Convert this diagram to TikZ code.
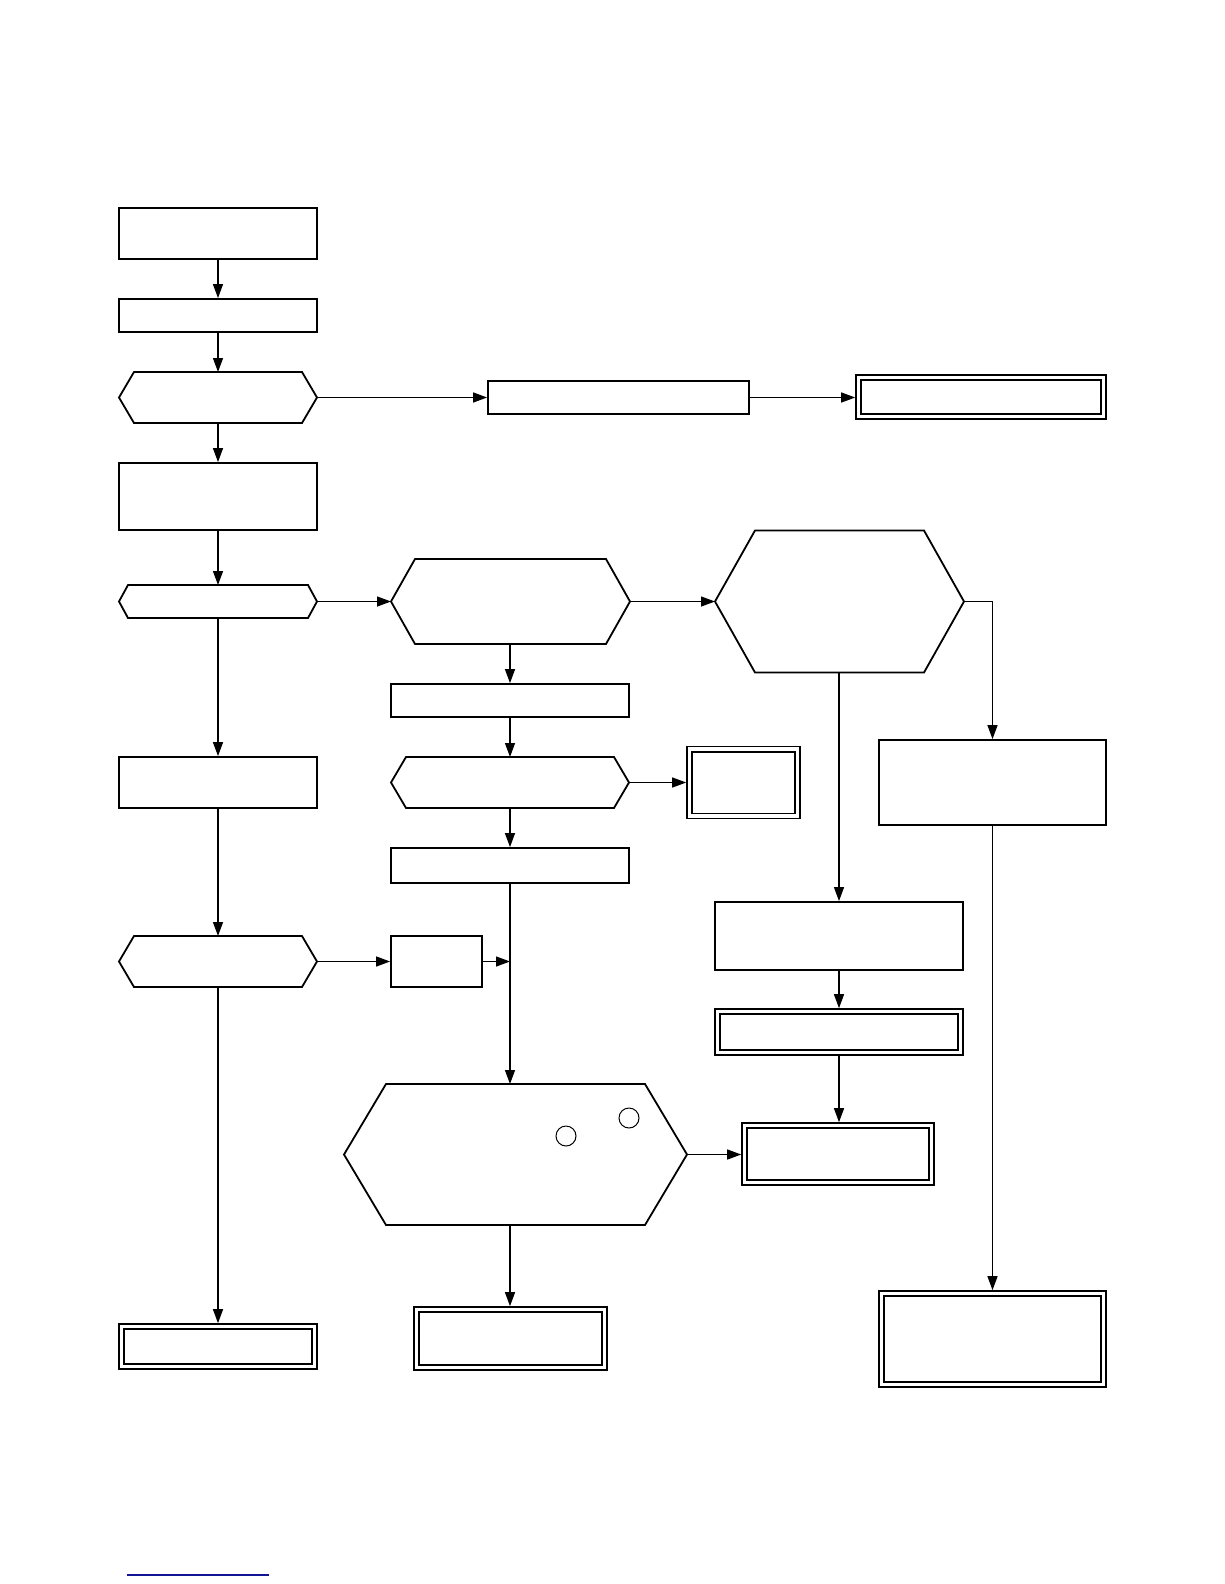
\documentclass[tikz,border=0pt]{standalone}
\usetikzlibrary{arrows.meta}
\definecolor{linkblue}{RGB}{20,20,150}
\tikzset{
 box/.style={draw, line width=1.8pt, inner sep=0pt, outer sep=0.9pt, rectangle},
 dbox/.style={draw, double, double distance=3.6pt, line width=1.6pt, inner sep=0pt, outer sep=3.4pt, rectangle},
 hexn/.style={inner sep=0pt, outer sep=0pt, rectangle},
 conn/.style={line width=1.3pt, -{Triangle[length=14pt,width=10pt]}},
 plain/.style={line width=1.3pt},
 ring/.style={circle, draw, line width=1pt, minimum size=20pt, inner sep=0pt},
}
\newcommand\hexdraw[2]{\draw[line width=1.8pt, line join=miter] ([xshift=#2]#1.north west) -- ([xshift=-#2]#1.north east) -- (#1.east) -- ([xshift=-#2]#1.south east) -- ([xshift=#2]#1.south west) -- (#1.west) -- cycle;}
\begin{document}
\begin{tikzpicture}[x=1pt,y=-1pt]
\useasboundingbox (0,0) rectangle (1224,1584);
% left column
\node[box, minimum width=198pt, minimum height=51pt] (b1) at (218,233.5) {};
\node[box, minimum width=198pt, minimum height=33pt] (b2) at (218,315.5) {};
\node[hexn, minimum width=198pt, minimum height=51pt] (h1) at (218,397.5) {};
\hexdraw{h1}{15}
\node[box, minimum width=261pt, minimum height=33pt] (b3) at (618.5,397.5) {};
\node[dbox, minimum width=244.8pt, minimum height=38.8pt] (d4) at (981,397) {};
\node[box, minimum width=198pt, minimum height=67pt] (b5) at (218,496.5) {};
\node[hexn, minimum width=198pt, minimum height=33pt] (h2) at (218,601.5) {};
\hexdraw{h2}{9}
\node[hexn, minimum width=239pt, minimum height=85pt] (h3) at (510.5,601.5) {};
\hexdraw{h3}{24}
\node[hexn, minimum width=249pt, minimum height=142pt] (h4) at (839.5,601.5) {};
\hexdraw{h4}{40}
\node[box, minimum width=227pt, minimum height=85pt] (r1) at (992.5,782.5) {};
\node[box, minimum width=248pt, minimum height=68pt] (b6) at (839,936) {};
\node[dbox, minimum width=242.8pt, minimum height=40.8pt] (d7) at (839,1032) {};
\node[dbox, minimum width=186.8pt, minimum height=56.8pt] (d8) at (838,1154) {};
\node[box, minimum width=238pt, minimum height=33pt] (b9) at (510,700.5) {};
\node[hexn, minimum width=238pt, minimum height=51pt] (h5) at (510,782.5) {};
\hexdraw{h5}{15}
\node[dbox, minimum width=107.8pt, minimum height=66.8pt] (d10) at (743.5,782.5) {};
\node[box, minimum width=238pt, minimum height=35pt] (b11) at (510,865.5) {};
\node[hexn, minimum width=343pt, minimum height=141pt] (h6) at (515.5,1154.5) {};
\hexdraw{h6}{42}
\node[ring] (c1) at (566,1136) {};
\node[ring] (c2) at (629,1118) {};
\node[box, minimum width=198pt, minimum height=51pt] (bl) at (218,782.5) {};
\node[hexn, minimum width=198pt, minimum height=51pt] (h7) at (218,961.5) {};
\hexdraw{h7}{15}
\node[box, minimum width=91pt, minimum height=51pt] (b12) at (436.5,961.5) {};
\node[dbox, minimum width=192.8pt, minimum height=39.8pt] (d13) at (218,1346.5) {};
\node[dbox, minimum width=187.8pt, minimum height=57.8pt] (d14) at (510.5,1338.5) {};
\node[dbox, minimum width=221.8pt, minimum height=90.8pt] (d15) at (992.5,1339) {};
% connectors
\draw[conn] (b1) -- (b2);
\draw[conn] (b2) -- (h1);
\draw[conn] (h1.east) -- (b3.west);
\draw[conn] (b3.east) -- (d4.west |- b3.east);
\draw[conn] (h1.south) -- (b5.north);
\draw[conn] (b5.south) -- (h2.north);
\draw[conn] (h2.east) -- (h3.west);
\draw[conn] (h3.east) -- (h4.west);
\draw[conn] (h4.east) -| (r1.north);
\draw[conn] (h4.south -| b6.north) -- (b6.north);
\draw[conn] (b6.south) -- (d7.north);
\draw[conn] (d7.south) -- (d7.south |- d8.north);
\draw[conn] (h3.south -| b9.north) -- (b9.north);
\draw[conn] (b9.south) -- (h5.north);
\draw[conn] (h5.east) -- (d10.west);
\draw[conn] (h5.south) -- (b11.north);
\draw[conn] (b11.south) -- (b11.south |- h6.north);
\draw[conn] (h6.east) -- (d8.west |- h6.east);
\draw[conn] (b11.south |- h6.south) -- (d14.north -| b11.south);
\draw[conn] (h2.south) -- (bl.north);
\draw[conn] (bl.south) -- (h7.north);
\draw[conn] (h7.east) -- (b12.west);
\draw[conn] (b12.east) -- (b11.south |- b12.east);
\draw[conn] (h7.south) -- (d13.north);
\draw[conn] (r1.south) -- (d15.north);
% link line
\coordinate (l1) at (127,1575);
\coordinate (l2) at (269,1575);
\draw[linkblue, line width=1.2pt] (l1) -- (l2);
\end{tikzpicture}
\end{document}
